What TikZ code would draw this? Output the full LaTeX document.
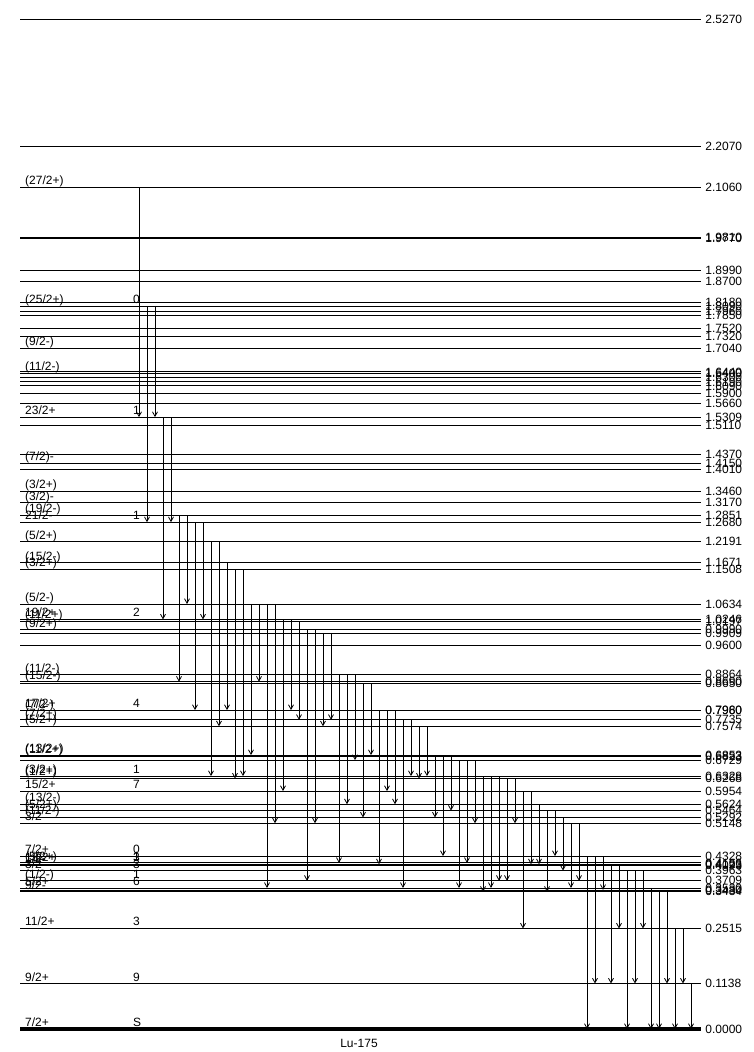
\documentclass[tikz,border=0pt]{standalone}
\usepackage{fontspec}
\setmainfont{Liberation Sans}
\usepackage{tikz}
\usetikzlibrary{arrows.meta}

\begin{document}
\begin{tikzpicture}[x=1pt,y=-1pt,>={Straight Barb[length=4.5pt,width=5pt]},
    lvl/.style={line width=0.8pt},
    gam/.style={->,line width=0.8pt},
    elabel/.style={anchor=west,inner sep=0pt,xshift=4pt,font=\fontsize{12}{12}\selectfont},
    jlabel/.style={anchor=base west,inner sep=0pt,font=\fontsize{12}{12}\selectfont}]
  \useasboundingbox (0,0) rectangle (753,1052);

  % levels (energy in MeV)
  \foreach \n/\e in {25270/2.5270,22070/2.2070,21060/2.1060,19810/1.9810,19770/1.9770,
      18990/1.8990,18700/1.8700,18180/1.8180,18090/1.8090,17960/1.7960,17850/1.7850,
      17520/1.7520,17320/1.7320,17040/1.7040,16440/1.6440,16400/1.6400,16300/1.6300,
      16190/1.6190,16090/1.6090,15900/1.5900,15660/1.5660,15309/1.5309,15110/1.5110,
      14370/1.4370,14150/1.4150,14010/1.4010,13460/1.3460,13170/1.3170,12851/1.2851,
      12680/1.2680,12191/1.2191,11671/1.1671,11508/1.1508,10634/1.0634,10246/1.0246,
      10197/1.0197,09990/0.9990,09909/0.9909,09600/0.9600,08864/0.8864,08690/0.8690,
      08650/0.8650,07980/0.7980,07960/0.7960,07735/0.7735,07574/0.7574,06853/0.6853,
      06823/0.6823,06729/0.6729,06328/0.6328,06268/0.6268,05954/0.5954,05624/0.5624,
      05464/0.5464,05292/0.5292,05148/0.5148,04328/0.4328,04156/0.4156,04123/0.4123,
      04093/0.4093,03963/0.3963,03709/0.3709,03530/0.3530,03480/0.3480,03434/0.3434,
      02515/0.2515,01138/0.1138,00000/0.0000}{
    \coordinate (L\n) at (20,{1029-399.7*\e});
    \draw[lvl] (L\n) -- ++(681,0) node[elabel] (E\n) {\e};
  }
  \draw[line width=4.5pt] (L00000) -- ++(681,0);

  % spins
  \foreach \n/\s in {21060/{(27/2+)},18090/{(25/2+)},17040/{(9/2-)},16400/{(11/2-)},
      15309/{23/2+},14150/{(7/2)-},13460/{(3/2+)},13170/{(3/2)-},12851/{(19/2-)},
      12680/{21/2-},12191/{(5/2+)},11671/{(15/2-)},11508/{(3/2+)},10634/{(5/2-)},
      10246/{19/2+},10197/{(11/2+)},09990/{(9/2+)},08864/{(11/2-)},08690/{(15/2-)},
      07980/{17/2+},07960/{(7/2-)},07735/{(7/2+)},07574/{(5/2+)},06853/{(13/2+)},
      06823/{(11/2+)},06328/{(3/2+)},06268/{(1/2+)},05954/{15/2+},05624/{(13/2-)},
      05464/{(5/2+)},05292/{(11/2-)},05148/{3/2},04328/{7/2+},04156/{(5/2+)},
      04123/{13/2+},04093/{1/2-},03963/{3/2-},03709/{(1/2-)},03530/{5/2+},
      03434/{9/2-},02515/{11/2+},01138/{9/2+},00000/{7/2+}}
    \node[jlabel] (J\n) at ([shift={(5,-2.5)}]L\n) {\s};

  % half-lives
  \foreach \n/\t in {18090/0,15309/1,12680/1,10246/2,07980/4,06328/1,05954/7,
      04328/0,04156/1,04123/3,03963/3,03709/1,03530/6,02515/3,01138/9,00000/S}
    \node[jlabel] (T\n) at ([shift={(113,-2.5)}]L\n) {\t};

  % gamma rays
  \foreach \k/\a/\b in {0/21060/15309,1/18090/12680,2/18090/15309,3/15309/10246,
      4/15309/12680,5/12851/08690,6/12851/10634,7/12680/07980,8/12680/10246,
      9/12191/06328,10/12191/07574,11/11671/07980,12/11508/06268,13/11508/06328,
      14/10634/06853,15/10634/08690,16/10634/03530,17/10634/05148,18/10246/05954,
      19/10246/07980,20/10197/07735,21/09990/03709,22/09990/05148,23/09909/07574,
      24/09909/07735,25/08864/04156,26/08864/05624,27/08864/06729,28/08650/05292,
      29/08650/06853,30/07980/04123,31/07980/05954,32/07980/05624,33/07735/03530,
      34/07735/06328,35/07574/06268,36/07574/06328,37/06853/05292,38/06853/04328,
      39/06853/05464,40/06729/03530,41/06729/04156,42/06729/05148,43/06328/03434,
      44/06328/03530,45/06328/03709,46/06268/03709,47/06268/05148,48/05954/02515,
      49/05954/04123,50/05624/04123,51/05464/03434,52/05464/04328,53/05292/03963,
      54/05148/03530,55/05148/03709,56/04328/00000,57/04328/01138,58/04328/03480,
      59/04123/01138,60/04123/02515,61/03963/00000,62/03963/01138,63/03963/02515,
      64/03530/00000,65/03480/00000,66/03480/01138,67/02515/00000,68/02515/01138,
      69/01138/00000}{
    \coordinate (G\k) at ({139+8*\k},0);
    \draw[gam] (L\a -| G\k) -- (L\b -| G\k);
  }

  \node (nuc) at (359,1043) {\fontsize{12}{12}\selectfont Lu-175};
\end{tikzpicture}
\end{document}
